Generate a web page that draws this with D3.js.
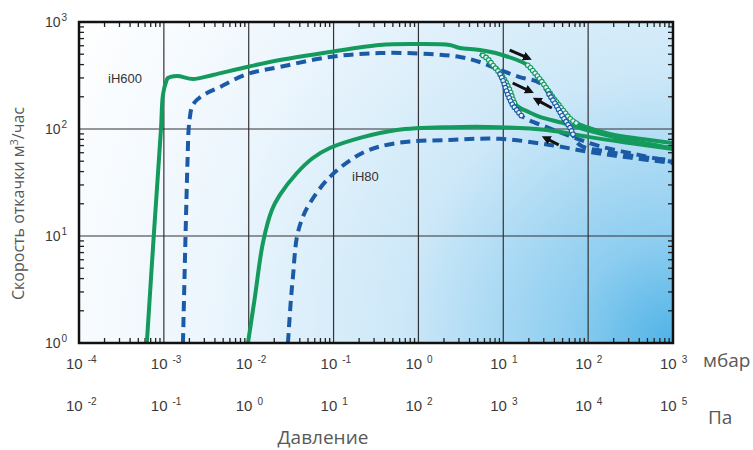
<!DOCTYPE html>
<html>
<head>
<meta charset="utf-8">
<script src="https://cdn.jsdelivr.net/npm/d3@7"></script>
<style>
  body { margin: 0; background: #fff; }
  svg { display: block; }
  .tick-label { font-family: "Liberation Sans", Arial, sans-serif; fill: #3a3a3a; }
  .ru-label { font-family: "Open Sans", sans-serif; font-size: 19px; fill: #595959; }
  .curve-name { font-family: "Liberation Sans", Arial, sans-serif; font-size: 13px; fill: #333; }
</style>
</head>
<body>
<div id="chart"></div>
<script>
// pressure in mbar, pumping speed in m3/h
const mbarExponents = [-4, -3, -2, -1, 0, 1, 2, 3];
const paExponents = [-2, -1, 0, 1, 2, 3, 4, 5];
const speedExponents = [0, 1, 2, 3];

// iH600 (green), upper branch
const ih600Green = [[6.3e-4, 1], [7.6e-4, 10], [9.25e-4, 100], [9.75e-4, 208], [1.06e-3, 275],
  [1.12e-3, 300], [1.43e-3, 313], [2.2e-3, 293], [3.78e-3, 320], [9.5e-3, 380], [0.0233, 441],
  [0.09, 525], [0.35, 610], [0.86, 623], [2.34, 610], [3.08, 571], [5.28, 547], [9.1, 500],
  [18.9, 400], [23.5, 334], [29.2, 269], [38.3, 199], [50.2, 151], [65.9, 119], [96, 104],
  [180, 90], [405, 81], [1000, 74]];
// iH600 green, lower branch
const ih600GreenLow = [[5.28, 502], [6.39, 461], [7.52, 396], [9.87, 306], [11.9, 231],
  [13.6, 175], [15.6, 158], [18.9, 147], [26.9, 130], [50.2, 114], [104, 96], [235, 82], [1000, 66]];
// iH600 dashed (blue), upper branch
const ih600Blue = [[1.68e-3, 1], [1.8e-3, 10], [1.9e-3, 50], [1.96e-3, 100], [2.03e-3, 130],
  [2.14e-3, 161], [2.45e-3, 187], [3.22e-3, 217], [4.58e-3, 247], [9.5e-3, 325], [0.0233, 380],
  [0.0904, 471], [0.351, 513], [1.36, 502], [3.08, 471], [5.28, 423], [9.1, 356], [15.6, 306],
  [26.9, 269], [38.3, 187], [50.2, 130], [60.7, 104], [79.6, 71], [180, 61], [405, 55], [1000, 51]];
// iH600 blue, lower branch
const ih600BlueLow = [[8.38, 372], [9.87, 287], [11.0, 222], [12.9, 168], [14.4, 151], [17.0, 130],
  [32.5, 104], [65.9, 84], [137, 69], [405, 57], [1000, 49]];
// iH80
const ih80Green = [[9.8e-3, 1], [0.01183, 2.69], [0.01469, 8.6], [0.01875, 17.5], [0.0233, 24.2],
  [0.037, 38.8], [0.057, 53.6], [0.0904, 66.4], [0.221, 84], [0.557, 98], [2.34, 104], [9.1, 104],
  [32.5, 98], [104, 84], [309, 74], [1000, 65]];
const ih80Blue = [[0.029, 1], [0.0314, 2.52], [0.0332, 4.14], [0.037, 9.8], [0.0435, 15.1],
  [0.0526, 20.3], [0.0904, 35.6], [0.221, 60], [0.557, 74], [2.34, 79], [9.1, 81], [35.3, 71],
  [104, 61], [309, 54], [1000, 48]];

// pressure ranges with measured points (open circles)
const markerRanges = [
  { data: ih600Green, from: 19, to: 75, color: "#139a5c" },
  { data: ih600GreenLow, from: 5.6, to: 14, color: "#139a5c" },
  { data: ih600Blue, from: 33, to: 68, color: "#1b5aa5" },
  { data: ih600BlueLow, from: 9, to: 17, color: "#1b5aa5" }
];

// direction arrows: [p1, s1, p2, s2], head at p2
const arrows = [[11.9, 547, 19.4, 461], [12.9, 269, 20.5, 226], [37.3, 157, 24.8, 187], [45, 71, 31.7, 82]];

const W = 753, H = 450;
const margin = { left: 79, top: 22, right: 80, bottom: 107 };
const iw = W - margin.left - margin.right;
const ih = H - margin.top - margin.bottom;

const green = "#139a5c", blue = "#1b5aa5";

const svg = d3.select("#chart").append("svg").attr("width", W).attr("height", H);

const x = d3.scaleLog().domain([1e-4, 1e3]).range([margin.left, margin.left + iw]);
const y = d3.scaleLog().domain([1, 1e3]).range([margin.top + ih, margin.top]);

// background gradient
const defs = svg.append("defs");
const grad = defs.append("radialGradient").attr("id", "bg")
  .attr("gradientUnits", "userSpaceOnUse")
  .attr("cx", x(1e3)).attr("cy", y(1)).attr("r", 680);
[[0, "#4fb3e6"], [0.15, "#8dcdf0"], [0.4, "#cde8f8"], [0.7, "#edf6fd"], [1, "#ffffff"]]
  .forEach(s => grad.append("stop").attr("offset", s[0]).attr("stop-color", s[1]));
defs.append("clipPath").attr("id", "clip").append("rect")
  .attr("x", margin.left).attr("y", margin.top).attr("width", iw).attr("height", ih);

svg.append("rect").attr("x", margin.left).attr("y", margin.top)
  .attr("width", iw).attr("height", ih).attr("fill", "url(#bg)");

// grid
const grid = svg.append("g").attr("stroke", "#333").attr("stroke-width", 1.2);
mbarExponents.slice(1, -1).forEach(e => grid.append("line")
  .attr("x1", x(10 ** e)).attr("x2", x(10 ** e)).attr("y1", margin.top).attr("y2", margin.top + ih));
speedExponents.slice(1, -1).forEach(e => grid.append("line")
  .attr("y1", y(10 ** e)).attr("y2", y(10 ** e)).attr("x1", margin.left).attr("x2", margin.left + iw));

// minor ticks, inside on all four sides
const minorX = [], minorY = [];
mbarExponents.slice(0, -1).forEach(e => d3.range(2, 10).forEach(k => minorX.push(k * 10 ** e)));
speedExponents.slice(0, -1).forEach(e => d3.range(2, 10).forEach(k => minorY.push(k * 10 ** e)));
const ticks = svg.append("g").attr("stroke", "#222").attr("stroke-width", 1.3);
const tl = 5;
minorX.forEach(v => {
  ticks.append("line").attr("x1", x(v)).attr("x2", x(v)).attr("y1", margin.top + ih).attr("y2", margin.top + ih - tl);
  ticks.append("line").attr("x1", x(v)).attr("x2", x(v)).attr("y1", margin.top).attr("y2", margin.top + tl);
});
minorY.forEach(v => {
  ticks.append("line").attr("y1", y(v)).attr("y2", y(v)).attr("x1", margin.left).attr("x2", margin.left + tl);
  ticks.append("line").attr("y1", y(v)).attr("y2", y(v)).attr("x1", margin.left + iw).attr("x2", margin.left + iw - tl);
});

// curves
const line = d3.line().x(d => x(d[0])).y(d => y(d[1])).curve(d3.curveCatmullRom.alpha(0.5));
const plot = svg.append("g").attr("clip-path", "url(#clip)");

function drawCurve(data, color, dashed) {
  return plot.append("path").datum(data)
    .attr("d", line).attr("fill", "none").attr("stroke", color)
    .attr("stroke-width", 4).attr("stroke-linecap", "butt")
    .attr("stroke-dasharray", dashed ? "10,6" : null);
}

const paths = new Map();
paths.set(ih80Blue, drawCurve(ih80Blue, blue, true));
paths.set(ih600BlueLow, drawCurve(ih600BlueLow, blue, true));
paths.set(ih600Blue, drawCurve(ih600Blue, blue, true));
paths.set(ih80Green, drawCurve(ih80Green, green, false));
paths.set(ih600GreenLow, drawCurve(ih600GreenLow, green, false));
paths.set(ih600Green, drawCurve(ih600Green, green, false));

// open circle markers sampled along the curve in the given pressure range
markerRanges.forEach(m => {
  const node = paths.get(m.data).node();
  const len = node.getTotalLength();
  const pts = [];
  for (let l = 0; l < len; l += 3.6) {
    const p = node.getPointAtLength(l);
    const pv = x.invert(p.x);
    if (pv >= m.from && pv <= m.to) pts.push(p);
  }
  plot.append("g").selectAll("circle").data(pts).join("circle")
    .attr("cx", d => d.x).attr("cy", d => d.y).attr("r", 2.3)
    .attr("fill", "#e8f4fb").attr("stroke", m.color).attr("stroke-width", 1.1);
});

// arrows
defs.append("marker").attr("id", "head").attr("viewBox", "0 0 10 10")
  .attr("refX", 5).attr("refY", 5).attr("markerWidth", 3).attr("markerHeight", 3)
  .attr("orient", "auto").append("path").attr("d", "M0,0 L10,5 L0,10 z").attr("fill", "#111");
svg.append("g").selectAll("line").data(arrows).join("line")
  .attr("x1", d => x(d[0])).attr("y1", d => y(d[1]))
  .attr("x2", d => x(d[2])).attr("y2", d => y(d[3]))
  .attr("stroke", "#111").attr("stroke-width", 3)
  .attr("marker-end", "url(#head)");

// frame
svg.append("rect").attr("x", margin.left).attr("y", margin.top)
  .attr("width", iw).attr("height", ih)
  .attr("fill", "none").attr("stroke", "#111").attr("stroke-width", 2.5);

// power-of-ten labels
function powLabel(g, px, py, exp, size, gap) {
  const t = g.append("text").attr("class", "tick-label").attr("x", px).attr("y", py)
    .style("font-size", size + "px");
  t.append("tspan").text("10");
  t.append("tspan").attr("dx", gap).attr("dy", -6)
    .style("font-size", "10px").text(exp);
}
const labels = svg.append("g");
mbarExponents.forEach(e => powLabel(labels, x(10 ** e) - 13, 369, e, 15, 5));
paExponents.forEach((e, i) => powLabel(labels, x(10 ** mbarExponents[i]) - 13, 411, e, 15, 5));
speedExponents.forEach(e => powLabel(labels, 45, y(10 ** e) + 5, e, 14, 1));

svg.append("text").attr("class", "ru-label").attr("x", 703).attr("y", 367).text("мбар");
svg.append("text").attr("class", "ru-label").attr("x", 708).attr("y", 424).text("Па");
svg.append("text").attr("class", "ru-label").attr("x", 323).attr("y", 444)
  .attr("text-anchor", "middle").text("Давление");

// y axis title, written from the bottom up
const yTitle = svg.append("text").attr("class", "ru-label").style("font-size", "16px")
  .attr("transform", "translate(24, 300) rotate(-90)");
yTitle.append("tspan").text("Скорость откачки м");
yTitle.append("tspan").attr("dy", -6).style("font-size", "11px").text("3");
yTitle.append("tspan").attr("dy", 6).text("/час");

svg.append("text").attr("class", "curve-name").attr("x", 108).attr("y", 83).text("iH600");
svg.append("text").attr("class", "curve-name").attr("x", 352).attr("y", 181).text("iH80");
</script>
</body>
</html>
